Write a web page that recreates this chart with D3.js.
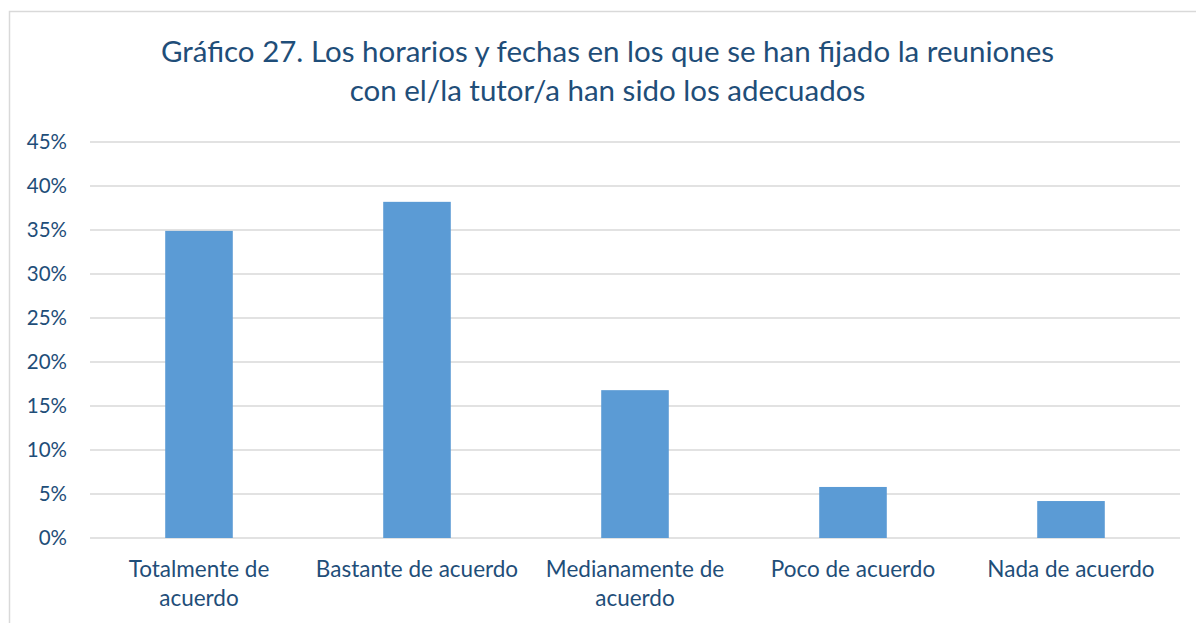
<!DOCTYPE html>
<html>
<head>
<meta charset="utf-8">
<script src="https://cdn.jsdelivr.net/npm/d3@7"></script>
<style>
  body { margin: 0; background: #fff; }
  svg text { font-family: Lato, "Open Sans", sans-serif; fill: #1F4E79; }
  .grid line { stroke: #D9D9D9; stroke-width: 1.5; }
</style>
</head>
<body>
<div id="chart"></div>
<script>
// values
var categories = ["Totalmente de acuerdo", "Bastante de acuerdo", "Medianamente de acuerdo", "Poco de acuerdo", "Nada de acuerdo"];
var catLabels = [["Totalmente de", "acuerdo"], ["Bastante de acuerdo"], ["Medianamente de", "acuerdo"], ["Poco de acuerdo"], ["Nada de acuerdo"]];
var values = [0.349, 0.382, 0.168, 0.058, 0.042];
var yTicks = [0, 0.05, 0.10, 0.15, 0.20, 0.25, 0.30, 0.35, 0.40, 0.45];
var titleLines = ["Gráfico 27. Los horarios y fechas en los que se han fijado la reuniones", "con el/la tutor/a han sido los adecuados"];

var width = 1196, height = 623;
var margin = {top: 142, right: 16, bottom: 85, left: 90};

var svg = d3.select("#chart").append("svg")
    .attr("width", width)
    .attr("height", height);

// chart border
svg.append("rect")
    .attr("x", 9.5).attr("y", 11.5)
    .attr("width", width + 10).attr("height", height + 10)
    .attr("fill", "none")
    .attr("stroke", "#D9D9D9")
    .attr("stroke-width", 1.5);

var x = d3.scaleBand()
    .domain(categories)
    .range([margin.left, width - margin.right])
    .paddingInner(0.69)
    .paddingOuter(0.345);

var y = d3.scaleLinear()
    .domain([0, 0.45])
    .range([height - margin.bottom, margin.top]);

// gridlines
svg.append("g")
    .attr("class", "grid")
    .selectAll("line")
    .data(yTicks)
    .enter().append("line")
    .attr("x1", margin.left)
    .attr("x2", width - margin.right)
    .attr("y1", function(d) { return y(d); })
    .attr("y2", function(d) { return y(d); });

// y axis labels
var yAxis = d3.axisLeft(y)
    .tickValues(yTicks)
    .tickFormat(d3.format(".0%"))
    .tickSize(0)
    .tickPadding(23);

var yg = svg.append("g")
    .attr("transform", "translate(" + margin.left + ",0)")
    .call(yAxis);
yg.select(".domain").remove();
yg.selectAll("text")
    .attr("font-size", 20.5)
    .attr("fill", "#1F4E79")
    .style("font-family", "Lato, sans-serif");

// bars
svg.append("g")
    .selectAll("rect")
    .data(values)
    .enter().append("rect")
    .attr("x", function(d, i) { return x(categories[i]); })
    .attr("y", function(d) { return y(d); })
    .attr("width", x.bandwidth())
    .attr("height", function(d) { return y(0) - y(d); })
    .attr("fill", "#5B9BD5");

// x labels
var xl = svg.append("g")
    .selectAll("text")
    .data(categories)
    .enter().append("text")
    .attr("text-anchor", "middle")
    .attr("font-size", 22.5)
    .attr("x", function(d) { return x(d) + x.bandwidth() / 2; })
    .attr("y", 577);
xl.selectAll("tspan")
    .data(function(d, i) { return catLabels[i]; })
    .enter().append("tspan")
    .attr("x", function() { return d3.select(this.parentNode).attr("x"); })
    .attr("dy", function(d, i) { return i === 0 ? 0 : 28.5; })
    .text(function(d) { return d; });

// title
svg.append("g")
    .selectAll("text")
    .data(titleLines)
    .enter().append("text")
    .attr("text-anchor", "middle")
    .attr("font-size", 29.5)
    .attr("x", 607.5)
    .attr("y", function(d, i) { return 62 + i * 38.5; })
    .text(function(d) { return d; });
</script>
</body>
</html>
